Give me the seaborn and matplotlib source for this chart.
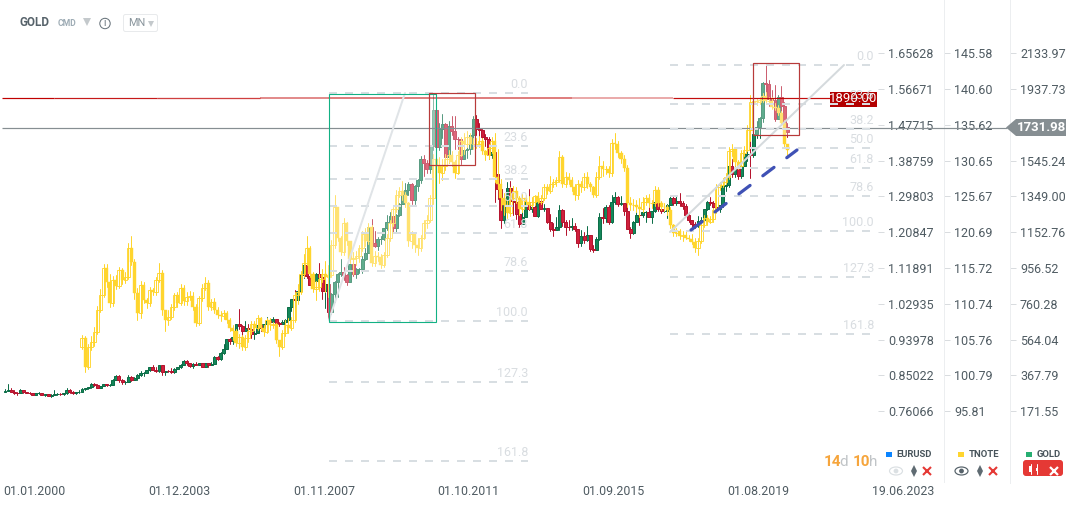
import matplotlib
matplotlib.use("Agg")
import matplotlib.pyplot as plt
import matplotlib.patches as mpatches
import numpy as np
import pandas as pd
import seaborn as sns

# ── Data: monthly candles ────────────────────────────────────────────────────
gold_first_open = 281
gold_close = [
    283,293,277,274,272,289,277,276,273,265,273,273,
    265,267,258,264,267,270,266,273,293,279,275,277,
    282,297,303,307,326,318,304,312,323,316,319,347,
    368,347,334,337,361,346,354,375,384,385,398,416,
    400,396,426,387,393,392,391,408,415,428,452,438,
    422,434,428,436,417,437,429,433,472,458,496,513,
    570,557,582,654,643,614,632,626,599,604,647,632,
    650,667,662,678,660,650,665,672,743,790,783,834,
    923,976,916,865,886,927,912,832,874,718,814,882,
    928,939,921,883,979,927,954,955,1007,1040,1182,1097,
    1081,1116,1116,1179,1212,1244,1181,1249,1308,1357,1386,1421,
    1334,1411,1439,1556,1536,1502,1628,1825,1620,1722,1746,1566,
    1739,1711,1668,1664,1559,1604,1610,1691,1776,1719,1714,1675,
    1664,1578,1595,1472,1393,1224,1312,1396,1327,1323,1253,1202,
    1240,1321,1284,1295,1246,1327,1282,1287,1210,1172,1167,1184,
    1278,1213,1183,1182,1190,1172,1095,1134,1115,1142,1065,1060,
    1118,1238,1232,1293,1214,1320,1351,1309,1316,1272,1173,1152,
    1211,1249,1248,1268,1268,1241,1269,1321,1280,1270,1274,1302,
    1345,1318,1325,1315,1298,1252,1223,1201,1191,1215,1222,1281,
    1323,1313,1292,1283,1305,1409,1413,1520,1472,1513,1463,1517,
    1584,1585,1577,1694,1730,1780,1975,1968,1886,1879,1776,1898,
    1847,1734,1707,
]
gold_high = [
    294,325,299,288,280,295,292,280,277,275,276,277,
    273,269,268,267,292,274,273,276,303,294,285,280,
    290,302,304,309,327,328,322,315,325,326,322,350,
    372,374,350,341,373,367,360,376,392,391,401,416,
    426,417,430,428,395,401,409,410,416,432,454,456,
    430,440,444,441,438,441,432,443,475,479,497,541,
    571,573,585,654,732,645,668,650,632,612,650,652,
    652,690,670,693,681,665,672,680,745,790,841,834,
    928,1002,1033,945,904,934,987,918,912,909,823,888,
    930,1006,962,924,980,992,957,961,1024,1070,1195,1226,
    1161,1127,1133,1181,1249,1265,1198,1254,1315,1388,1424,1431,
    1424,1412,1448,1575,1577,1553,1632,1912,1921,1756,1804,1753,
    1764,1791,1792,1678,1665,1640,1625,1692,1790,1796,1754,1723,
    1695,1675,1616,1600,1488,1416,1348,1433,1434,1361,1361,1267,
    1280,1332,1392,1331,1315,1332,1345,1310,1287,1255,1207,1238,
    1307,1282,1223,1224,1232,1205,1174,1169,1157,1191,1142,1088,
    1127,1263,1287,1304,1303,1362,1375,1352,1352,1317,1304,1183,
    1219,1264,1261,1295,1272,1296,1270,1331,1358,1306,1299,1309,
    1361,1361,1356,1369,1326,1309,1265,1223,1212,1243,1238,1284,
    1326,1347,1324,1303,1306,1439,1452,1555,1557,1518,1515,1523,
    1611,1689,1704,1747,1765,1789,1981,2075,1992,1933,1965,1906,
    1959,1871,1756,
]
gold_low = [
    277,283,277,271,265,272,276,272,267,263,262,267,
    262,256,255,254,263,264,264,263,270,276,268,270,
    275,283,290,298,304,310,302,300,310,310,314,318,
    345,335,325,325,335,342,343,344,367,367,383,397,
    398,389,388,375,372,387,383,386,403,409,427,427,
    414,413,425,426,414,415,418,429,431,455,456,488,
    513,540,543,584,625,542,615,615,573,572,603,615,
    603,642,636,660,650,642,650,651,671,721,781,785,
    834,902,905,868,850,861,906,787,738,681,706,772,
    802,917,894,868,883,913,907,931,933,1002,1045,1075,
    1075,1058,1089,1115,1165,1217,1158,1157,1246,1315,1341,1360,
    1308,1309,1382,1424,1462,1478,1480,1604,1535,1604,1670,1523,
    1537,1687,1612,1614,1527,1555,1564,1585,1661,1690,1672,1635,
    1626,1555,1562,1321,1338,1180,1208,1282,1292,1251,1227,1182,
    1221,1241,1278,1268,1242,1241,1282,1272,1205,1160,1132,1170,
    1167,1192,1142,1170,1170,1162,1077,1079,1098,1107,1052,1046,
    1061,1111,1208,1212,1200,1208,1310,1301,1305,1250,1171,1122,
    1147,1216,1195,1240,1214,1237,1204,1268,1272,1260,1265,1236,
    1302,1307,1303,1301,1282,1245,1211,1160,1180,1183,1196,1221,
    1275,1302,1281,1266,1267,1293,1382,1401,1459,1458,1445,1453,
    1517,1548,1451,1568,1670,1671,1757,1863,1849,1860,1764,1775,
    1802,1717,1677,
]

tnote_start_month = 25
tnote_first_open = 104.8
tnote_close = [
    106.1,102.0,104.8,105.5,106.9,110.0,112.0,115.8,113.8,110.9,114.1,
    113.3,115.5,114.1,114.5,118.5,116.6,112.3,109.6,113.4,111.3,110.9,112.7,
    112.4,114.1,115.1,109.9,108.6,109.0,110.3,112.0,110.9,113.0,111.2,111.8,
    111.9,110.4,108.2,111.6,113.0,113.7,110.3,111.0,110.0,109.3,109.1,109.5,
    108.5,107.5,107.0,105.3,106.2,104.8,106.0,107.0,108.0,107.5,108.8,107.5,
    106.9,108.5,107.8,108.0,105.8,104.8,106.8,107.8,107.5,108.6,112.0,112.5,
    115.0,116.5,118.5,115.0,112.8,113.2,114.3,115.0,114.5,114.8,119.0,124.2,
    120.0,118.0,122.0,119.5,117.0,117.2,117.5,118.5,120.5,119.5,121.5,116.5,
    117.5,117.3,116.2,117.6,120.0,122.0,124.0,126.0,126.5,126.0,124.8,119.5,
    120.5,119.0,118.5,120.0,122.0,122.5,125.5,131.0,130.0,129.0,130.0,131.0,
    131.5,130.5,129.0,131.5,133.5,133.0,134.0,133.0,133.0,133.0,133.5,132.0,
    131.5,132.5,133.5,128.5,127.5,125.5,124.5,123.5,125.5,126.5,125.5,124.0,
    125.5,125.0,124.5,125.0,125.8,125.0,125.5,127.0,126.5,127.5,127.8,128.0,
    131.2,127.5,128.5,128.0,127.0,125.9,127.5,127.0,128.5,127.5,127.0,126.0,
    128.5,130.0,129.5,129.5,129.0,133.2,133.0,131.8,131.0,129.7,124.8,124.5,
    124.5,124.2,124.0,125.0,125.5,124.8,124.8,126.6,124.8,124.3,124.2,123.8,
    121.7,120.6,120.9,120.2,120.4,120.0,119.8,119.4,118.6,119.6,121.8,122.8,
    122.2,122.6,123.8,127.0,127.3,127.8,128.5,132.0,132.3,130.5,130.0,131.8,
    132.2,135.0,138.8,139.0,138.9,139.2,139.7,139.0,139.0,138.2,138.0,137.3,
    136.0,133.0,132.2,
]
tnote_high = [
    106.5,106.3,105.2,106.3,107.6,110.5,112.8,116.4,116.3,115.0,114.7,
    114.8,115.9,115.8,115.3,119.3,120.2,117.0,113.0,114.0,113.8,111.6,113.2,
    113.0,114.6,116.5,115.5,109.6,110.0,110.8,112.3,112.5,113.6,113.4,112.5,
    112.6,112.4,110.8,111.9,113.6,114.6,114.1,111.5,111.6,110.4,109.8,110.0,
    109.8,108.9,107.8,107.3,106.6,106.5,106.5,107.4,108.4,108.4,109.2,109.0,
    107.8,108.9,108.8,108.3,108.2,105.7,107.1,108.6,108.9,109.0,112.4,113.5,
    115.4,117.7,120.2,118.8,115.2,114.0,114.9,115.6,116.7,116.2,119.7,125.9,
    124.0,120.3,122.8,122.2,119.6,118.0,118.2,119.0,120.9,121.3,122.0,121.7,
    118.2,118.0,117.8,118.0,120.5,122.4,124.3,126.6,127.0,127.9,126.4,125.0,
    121.0,120.8,120.0,120.4,122.5,123.2,126.0,131.7,132.5,131.2,131.0,131.6,
    132.2,132.0,130.8,132.0,134.0,134.5,134.8,134.6,133.8,133.9,134.2,133.9,
    132.2,133.0,134.0,134.5,132.3,128.2,126.2,125.2,127.0,127.2,127.1,125.8,
    126.1,126.0,125.8,125.6,126.0,126.3,125.9,127.4,127.5,128.6,128.2,128.5,
    132.0,131.5,129.2,129.0,128.5,127.4,128.0,127.9,129.0,129.1,127.8,127.2,
    129.2,131.4,130.6,130.0,129.9,133.7,134.5,133.5,132.0,131.5,130.1,125.6,
    125.4,125.2,125.5,125.7,126.0,126.1,125.2,127.2,127.0,125.1,124.8,124.6,
    124.2,121.9,121.4,121.2,120.9,121.0,120.4,120.5,120.0,119.9,122.2,123.2,
    123.2,123.0,124.1,127.4,127.8,128.3,129.0,132.6,133.0,132.6,130.8,132.2,
    132.7,135.7,139.8,139.5,139.4,139.6,140.1,140.2,139.5,139.5,138.7,138.4,
    137.6,136.3,133.0,
]
tnote_low = [
    104.5,101.3,101.8,104.4,105.0,106.6,109.7,111.8,113.2,110.3,110.5,
    112.9,113.0,113.6,113.7,114.2,116.2,111.5,108.6,108.8,110.9,110.2,110.5,
    112.0,112.0,113.8,109.3,107.0,107.8,108.7,109.9,110.3,110.6,110.7,110.7,
    111.3,110.0,107.7,107.8,111.2,112.7,109.9,110.0,109.6,108.9,108.4,108.7,
    108.1,107.0,105.8,105.0,104.7,104.4,104.4,105.5,106.6,107.1,107.1,107.1,
    106.4,106.7,107.2,107.4,105.4,103.6,104.5,106.4,106.7,107.2,108.3,110.8,
    112.2,114.6,116.2,114.6,112.4,111.4,112.6,113.9,112.5,111.8,114.6,118.5,
    119.5,117.6,117.6,119.0,116.5,114.9,116.2,116.6,118.2,118.9,119.1,116.0,
    116.0,116.8,115.8,115.9,117.3,119.6,121.6,123.6,125.7,125.2,124.2,118.8,
    118.5,118.0,117.6,118.2,119.8,121.3,122.2,124.7,128.8,127.6,128.0,129.4,
    130.4,130.0,128.3,128.8,131.3,131.7,132.6,132.5,132.4,132.5,132.6,131.6,
    130.8,131.0,131.8,127.8,126.8,123.9,123.2,122.7,123.0,125.2,124.8,123.2,
    123.6,124.4,124.0,124.1,124.6,124.8,124.7,125.2,126.1,126.2,127.0,127.2,
    127.7,127.0,127.1,127.4,126.5,125.2,125.4,126.4,126.6,126.9,126.5,125.6,
    125.7,128.2,128.6,128.9,128.4,128.6,132.4,131.2,130.4,129.3,124.3,123.8,
    123.9,123.6,122.9,123.6,124.6,124.3,124.1,124.4,124.4,123.8,123.7,123.2,
    121.3,120.2,120.3,119.8,119.6,119.8,119.5,119.1,118.0,117.6,119.3,121.5,
    121.8,122.0,122.2,123.4,126.6,127.0,127.5,128.2,131.4,130.0,129.5,129.7,
    131.3,132.0,133.5,138.3,138.4,138.6,138.9,138.7,138.6,137.9,137.7,137.0,
    135.6,132.6,131.3,
]

eurusd_ticks = [1.65628, 1.56671, 1.47715, 1.38759, 1.29803, 1.20847, 1.11891, 1.02935, 0.93978, 0.85022, 0.76066]
tnote_ticks = [145.58, 140.60, 135.62, 130.65, 125.67, 120.69, 115.72, 110.74, 105.76, 100.79, 95.81]
gold_ticks = [2133.97, 1937.73, 1741.49, 1545.24, 1349.00, 1152.76, 956.52, 760.28, 564.04, 367.79, 171.55]
gold_tick_labels = ["2133.97", "1937.73", "", "1545.24", "1349.00", "1152.76", "956.52", "760.28", "564.04", "367.79", "171.55"]

date_ticks = [0, 47, 94, 141, 188, 235, 282]
date_labels = ["01.01.2000", "01.12.2003", "01.11.2007", "01.10.2011", "01.09.2015", "01.08.2019", "19.06.2023"]

fib_labels = ["0.0", "23.6", "38.2", "50.0", "61.8", "78.6", "100.0", "127.3", "161.8"]
fib_left_levels = [1917, 1627, 1446, 1298, 1149, 942, 671, 332, -96]
fib_right_levels = [2070, 1856, 1723, 1615, 1508, 1355, 1160, 912, 597]

price_red = 1890.00
price_last = 1731.98

# ── Style ─────────────────────────────────────────────────────────────────────
YELLOW = "#ffd52e"
UP_FILL = "#14875a"
UP_EDGE = "#0d6e48"
DOWN_FILL = "#cf1f3c"
DOWN_EDGE = "#b5152f"
FIB = "#d8dee2"
FIB_TEXT = "#d9dde1"
RECT_RED = "#b83a3a"
RECT_GREEN = "#12b184"
TEXT = "#4f5b62"

W, H = 1078, 508
PLOT_R, PLOT_B = 878, 483
PX_TO_IN = 0.72  # points per pixel at dpi 100

sns.set_theme(style="white")
plt.rcParams["font.family"] = ["Roboto", "DejaVu Sans"]
plt.rcParams["lines.scale_dashes"] = False


def px(v):
    return v * PX_TO_IN


def rect_of(left, top, right, bottom):
    return [left / W, 1 - bottom / H, (right - left) / W, (bottom - top) / H]


def ylim_for(ticks):
    # ticks[0] sits on y=53.7px, ticks[10] on y=411.7px
    per_px = (ticks[0] - ticks[10]) / 358.0
    return ticks[0] - (PLOT_B - 53.7) * per_px, ticks[0] + 53.7 * per_px


gold_lim = ylim_for(gold_ticks)


def gold_y(v):
    per_px = (gold_ticks[0] - gold_ticks[10]) / 358.0
    return 53.7 + (gold_ticks[0] - v) / per_px


def draw_candles(ax, months, opens, closes, highs, lows, up_kw, down_kw, wick_colors, wick_px=1.0):
    frame = pd.DataFrame({"month": months, "open": opens, "close": closes, "high": highs, "low": lows})
    frame["dir"] = np.where(frame["close"] >= frame["open"], "up", "down")
    wicks = frame.melt(id_vars=["month", "dir"], value_vars=["low", "high"], value_name="price")
    sns.lineplot(data=wicks, x="month", y="price", units="month", estimator=None, hue="dir",
                 palette=wick_colors, linewidth=px(wick_px), legend=False, sort=False, ax=ax)
    for key, kw in (("up", up_kw), ("down", down_kw)):
        part = frame[frame["dir"] == key]
        bottom = part[["open", "close"]].min(axis=1)
        height = (part["close"] - part["open"]).abs()
        ax.bar(part["month"], height, bottom=bottom, zorder=3, **kw)
    ax.set_xlabel("")
    ax.set_ylabel("")


fig = plt.figure(figsize=(W / 100, H / 100), dpi=100, facecolor="white")

# ── Scale columns ─────────────────────────────────────────────────────────────
columns = [
    (878, eurusd_ticks, [f"{t:.5f}" for t in eurusd_ticks], False),
    (944, tnote_ticks, [f"{t:.2f}" for t in tnote_ticks], True),
    (1010, gold_ticks, gold_tick_labels, True),
]
for left, ticks, labels, show_spine in columns:
    col = fig.add_axes(rect_of(left, -0.5, left + 6, PLOT_B - 0.5), facecolor="none")
    col.set_ylim(*ylim_for(ticks))
    col.set_xticks([])
    col.yaxis.tick_right()
    col.set_yticks(ticks)
    col.set_yticklabels(labels)
    col.tick_params(axis="y", direction="in", length=px(6), width=px(1), color="#d9dcdf",
                    labelcolor=TEXT, labelsize=9, pad=px(4), right=True, left=False)
    for name, spine in col.spines.items():
        spine.set_visible(name == "left" and show_spine)
        spine.set_color("#eceef0")
        spine.set_linewidth(px(1))

# ── Price axes ────────────────────────────────────────────────────────────────
ax_gold = fig.add_axes(rect_of(0, 0, PLOT_R, PLOT_B), facecolor="none")
gold_months = np.arange(len(gold_close))
gold_open = [gold_first_open] + gold_close[:-1]
draw_candles(
    ax_gold, gold_months, gold_open, gold_close, gold_high, gold_low,
    dict(width=0.95, color=UP_FILL, edgecolor=UP_EDGE, linewidth=px(1)),
    dict(width=0.95, color=DOWN_FILL, edgecolor=DOWN_EDGE, linewidth=px(1)),
    {"up": UP_EDGE, "down": DOWN_EDGE},
)
ax_gold.set_xlim(-5 / 3.08, (PLOT_R - 5) / 3.08)
ax_gold.set_ylim(*gold_lim)
ax_gold.set_yticks([])
ax_gold.set_xticks([t - 0.5 for t in date_ticks])
ax_gold.set_xticklabels(date_labels, ha="left")
ax_gold.tick_params(axis="x", direction="in", length=0, labelsize=8.9, labelcolor=TEXT, pad=px(2), bottom=False)
for spine in ax_gold.spines.values():
    spine.set_visible(False)

ax_tnote = ax_gold.twinx()
ax_tnote.patch.set_visible(False)
tnote_months = np.arange(len(tnote_close)) + tnote_start_month
tnote_open = [tnote_first_open] + tnote_close[:-1]
draw_candles(
    ax_tnote, tnote_months, tnote_open, tnote_close, tnote_high, tnote_low,
    dict(width=1.05, fill=False, edgecolor=YELLOW, linewidth=px(0.9)),
    dict(width=1.0, color=YELLOW, edgecolor=YELLOW, linewidth=px(0.4)),
    {"up": YELLOW, "down": YELLOW},
)
ax_tnote.set_ylim(*ylim_for(tnote_ticks))
ax_tnote.set_yticks([])
for spine in ax_tnote.spines.values():
    spine.set_visible(False)

# ── Drawing tools on top, in pixel coordinates ────────────────────────────────
ov = fig.add_axes([0, 0, 1, 1], facecolor="none", zorder=5)
ov.set_xlim(0, W)
ov.set_ylim(H, 0)
ov.axis("off")

for (l, t, r, b) in [(328, 93, 435, 321), (429, 93, 475, 165), (753, 63, 799, 135)]:
    ov.add_patch(mpatches.Rectangle((l, t), r - l, b - t, facecolor="white", alpha=0.32, edgecolor="none", zorder=1))

# price lines
red_y = gold_y(price_red)
for x0, x1, alpha, lw in [(2, 54, 1.0, 1.2), (54, 157, 0.9, 1.2), (157, 260, 0.75, 1.3), (260, 328, 0.6, 1.5),
                          (328, 572, 0.5, 2.0), (572, 673, 0.33, 2.0), (673, 830, 0.95, 1.2)]:
    ov.plot([x0, x1], [red_y, red_y], color="#c00000", alpha=alpha, lw=px(lw), zorder=2, solid_capstyle="butt")
ov.add_patch(mpatches.Rectangle((830, 92), 47, 15, facecolor="#b30000", edgecolor="none", zorder=2))
ov.text(853.5, 99, f"{price_red:.2f}", color="white", fontsize=9.5, ha="center", va="center", zorder=3)

last_y = 127.5
ov.plot([2, 1007], [last_y, last_y], color="#868e92", lw=px(1.2), zorder=2, solid_capstyle="butt")
ov.add_patch(mpatches.Polygon([(1006, last_y), (1016, 119), (1066, 119), (1066, 136), (1016, 136)],
                              closed=True, facecolor="#868e92", edgecolor="none", zorder=2))
ov.text(1041, last_y, f"{price_last:.2f}", color="white", fontsize=9.5, fontweight="bold", ha="center", va="center", zorder=3)

# fibonacci levels
for levels, x0, x1, x_text in [(fib_left_levels, 329, 528, 528), (fib_right_levels, 670, 870, 874)]:
    for level, label in zip(levels, fib_labels):
        y = gold_y(level)
        ov.plot([x0, x1], [y, y], color=FIB, lw=px(2), dashes=(px(8), px(8)), zorder=4, dash_capstyle="butt")
        ov.text(x_text, y - 8.5, label, color=FIB_TEXT, fontsize=9, ha="right", va="center", zorder=4)

# diagonals and trend line
ov.plot([329, 405], [320, 93], color="#e0e4e7", lw=px(2), zorder=4)
ov.plot([670, 844], [232, 65], color="#d5dadd", lw=px(2), zorder=4)
ov.plot([691, 797], [230, 150], color="#3f51b5", lw=px(3.2), dashes=(px(14), px(16)), dash_capstyle="round", zorder=4)

# boxes: the green one sits on whole pixels, the two red ones are softer
ov.add_patch(mpatches.Rectangle((328.5, 93.5), 107, 228, fill=False, edgecolor=RECT_GREEN, lw=px(1.1), zorder=4))
for (l, t, r, b) in [(429, 93, 475, 165), (753, 63, 799, 135)]:
    ov.add_patch(mpatches.Rectangle((l, t), r - l, b - t, fill=False, edgecolor=RECT_RED, lw=px(1.2), zorder=4))

# ── Header ────────────────────────────────────────────────────────────────────
ov.text(20, 23, "GOLD", color="#56626a", fontsize=8.5, fontweight="bold", va="center")
ov.text(58, 24, "CMD", color="#9eacb5", fontsize=6.2, fontweight="bold", va="center")
ov.plot([87], [21.5], marker="v", color="#c4c9cc", ms=5.5, mew=0)
ov.add_patch(mpatches.Circle((105, 23.5), 5.2, fill=False, edgecolor="#66727a", lw=px(1)))
ov.text(105, 23.5, "i", color="#66727a", fontsize=7, ha="center", va="center")
ov.add_patch(mpatches.FancyBboxPatch((123.5, 14.5), 34, 17, boxstyle="round,pad=0,rounding_size=2",
                                     facecolor="white", edgecolor="#e8eaec", lw=px(1)))
ov.text(128.5, 23.5, "MN", color="#8a969d", fontsize=7.8, va="center")
ov.plot([151], [23.5], marker="v", color="#c4c9cc", ms=5, mew=0)

# ── Bottom right legend ───────────────────────────────────────────────────────
ov.text(824, 462, "14", color="#f6a53c", fontsize=11, fontweight="bold", va="center")
ov.text(839.5, 462, "d", color="#c0c4c7", fontsize=11, va="center")
ov.text(853, 462, "10", color="#f6a53c", fontsize=11, fontweight="bold", va="center")
ov.text(868.5, 462, "h", color="#c0c4c7", fontsize=11, va="center")

for x, color, name in [(888.5, "#0a84ff", "EURUSD"), (961, "#ffd52e", "TNOTE"), (1029, "#27ae72", "GOLD")]:
    ov.add_patch(mpatches.Rectangle((x - 3, 451.5), 6, 5.5, facecolor=color, edgecolor="none"))
    ov.text(x + 7.5, 454.5, name, color="#48545b", fontsize=6.8, fontweight="bold", va="center")

for x, eye, tone in [(896, "#dbe0e3", "#5f6b72"), (961.5, "#56626a", "#5f6b72")]:
    ov.add_patch(mpatches.Ellipse((x, 471), 13, 8, fill=False, edgecolor=eye, lw=px(1.2)))
    ov.add_patch(mpatches.Circle((x, 471), 2.4, facecolor=eye, edgecolor="none"))
    ov.plot([x + 18], [468.3], marker="^", color=tone, ms=5, mew=0)
    ov.plot([x + 18], [473.7], marker="v", color=tone, ms=5, mew=0)
    ov.plot([x + 31], [471], marker="x", color="#e53935", ms=5.2, mew=1.5)

ov.add_patch(mpatches.FancyBboxPatch((1023, 460), 40, 16, boxstyle="round,pad=0,rounding_size=3",
                                     facecolor="#e53935", edgecolor="none"))
for x in (1030.5, 1037):
    ov.plot([x, x], [464, 474], color="white", lw=px(1))
ov.add_patch(mpatches.Rectangle((1029.2, 466), 2.6, 6, facecolor="white", edgecolor="none"))
ov.add_patch(mpatches.Rectangle((1036, 468), 2, 3, facecolor="white", edgecolor="none"))
ov.plot([1053.5], [471], marker="x", color="white", ms=5.5, mew=1.6)

fig.savefig("out.png", dpi=100, facecolor="white")
